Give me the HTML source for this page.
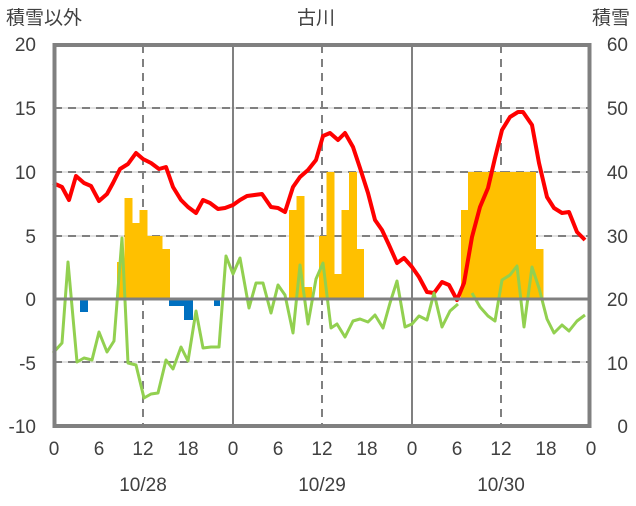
<!DOCTYPE html>
<html><head><meta charset="utf-8"><style>
body{margin:0;background:#fff}
svg text{font-family:"Liberation Sans","Noto Sans CJK JP",sans-serif;fill:#404040;font-size:19px}
</style></head><body>
<svg width="636" height="501" viewBox="0 0 636 501">
<g stroke="#d9d9d9" stroke-width="1.5">
<line x1="54" y1="108" x2="590" y2="108"/><line x1="54" y1="172" x2="590" y2="172"/><line x1="54" y1="236" x2="590" y2="236"/><line x1="54" y1="362" x2="590" y2="362"/>
</g>
<g stroke="#808080" stroke-width="2" stroke-dasharray="8,6">
<line x1="54" y1="108" x2="590" y2="108"/><line x1="54" y1="172" x2="590" y2="172"/><line x1="54" y1="236" x2="590" y2="236"/><line x1="54" y1="362" x2="590" y2="362"/>
<line x1="143" y1="45" x2="143" y2="426"/><line x1="322" y1="45" x2="322" y2="426"/><line x1="501" y1="45" x2="501" y2="426"/>
</g>
<g stroke="#808080" stroke-width="2">
<line x1="233" y1="45" x2="233" y2="426"/><line x1="412" y1="45" x2="412" y2="426"/>
</g>
<g fill="#ffc000">
<rect x="117" y="262" width="8" height="37"/><rect x="124.5" y="198" width="8" height="101"/><rect x="132" y="223" width="8" height="76"/><rect x="139.5" y="210" width="8" height="89"/><rect x="147" y="236" width="15.5" height="63"/><rect x="162" y="249" width="8" height="50"/>
<rect x="289" y="210" width="8" height="89"/><rect x="296.5" y="196" width="8" height="103"/><rect x="304" y="287" width="8" height="12"/><rect x="319" y="236" width="8" height="63"/><rect x="326.5" y="172" width="8" height="127"/><rect x="334" y="274" width="8" height="25"/><rect x="341.5" y="210" width="8" height="89"/><rect x="349" y="172" width="8" height="127"/><rect x="356.5" y="249" width="7.5" height="50"/>
<rect x="461" y="210" width="8" height="89"/><rect x="468" y="172" width="68" height="127"/><rect x="536" y="249" width="7.5" height="50"/>
</g>
<g fill="#0070c0">
<rect x="80" y="299" width="8" height="13"/><rect x="169" y="299" width="15" height="7"/><rect x="184" y="299" width="9" height="21"/><rect x="214" y="299" width="6" height="7"/>
</g>
<polyline fill="none" stroke="#ff0000" stroke-width="4" stroke-linejoin="round" points="53,183 62,187 69,200 76,176 84,183 91,186 99,201 107,194 113,183 120,169 128,164 136,153 143,159 151,163 159,169 166,167 173,187 181,200 188,207 196,213 203,200 210,203 218,209 225,208 233,205 240,200 247,196 262,194 271,207 278,208 285,212 293,187 300,177 308,170 316,160 323,136 330,133 338,140 345,133 353,147 360,168 368,193 375,220 382,230 389,245 397,263 404,258 412,267 419,277 427,292 434,293 442,282 449,285 457,300 464,283 472,237 480,207 488,188 495,158 502,130 510,117 518,112 523,112 532,125 539,163 547,197 554,208 562,213 569,212 577,232 585,240"/>
<g fill="none" stroke="#92d050" stroke-width="3" stroke-linejoin="round">
<polyline points="53,353 62,343 68,262 77,362 84,358 92,360 99,332 107,352 114,341 122,238 128,363 136,365 144,398 151,394 158,393 166,360 173,369 181,347 188,361 196,311 203,348 211,347 219,347 226,256 233,274 240,258 249,308 256,283 263,283 271,313 278,285 285,295 293,333 300,265 308,324 316,279 323,263 331,328 337,324 345,337 353,321 360,319 368,322 375,315 383,328 390,303 397,281 405,327 412,324 419,316 427,320 434,293 442,327 450,311 458,304"/>
<polyline points="472,293 480,307 488,316 495,321 502,280 510,275 517,266 524,327 532,267 539,288 547,319 554,333 562,325 569,331 577,321 585,315"/>
</g>
<line x1="54" y1="299" x2="590" y2="299" stroke="#808080" stroke-width="3"/>
<rect x="54.5" y="45" width="535" height="381" fill="none" stroke="#808080" stroke-width="4"/>
<text x="6" y="24">積雪以外</text>
<text x="316" y="24" text-anchor="middle">古川</text>
<text x="630" y="24" text-anchor="end">積雪</text>
<g text-anchor="end">
<text x="36" y="51">20</text><text x="36" y="115">15</text><text x="36" y="179">10</text><text x="36" y="243">5</text><text x="36" y="306">0</text><text x="36" y="370">-5</text><text x="36" y="433">-10</text>
</g>
<g text-anchor="end">
<text x="628" y="51">60</text><text x="628" y="115">50</text><text x="628" y="179">40</text><text x="628" y="243">30</text><text x="628" y="306">20</text><text x="628" y="370">10</text><text x="628" y="433">0</text>
</g>
<g text-anchor="middle">
<text x="54" y="455">0</text><text x="99" y="455">6</text><text x="143" y="455">12</text><text x="188" y="455">18</text>
<text x="233" y="455">0</text><text x="278" y="455">6</text><text x="322" y="455">12</text><text x="367" y="455">18</text>
<text x="412" y="455">0</text><text x="457" y="455">6</text><text x="501" y="455">12</text><text x="546" y="455">18</text><text x="591" y="455">0</text>
<text x="143" y="491">10/28</text><text x="322" y="491">10/29</text><text x="501" y="491">10/30</text>
</g>
</svg>
</body></html>
